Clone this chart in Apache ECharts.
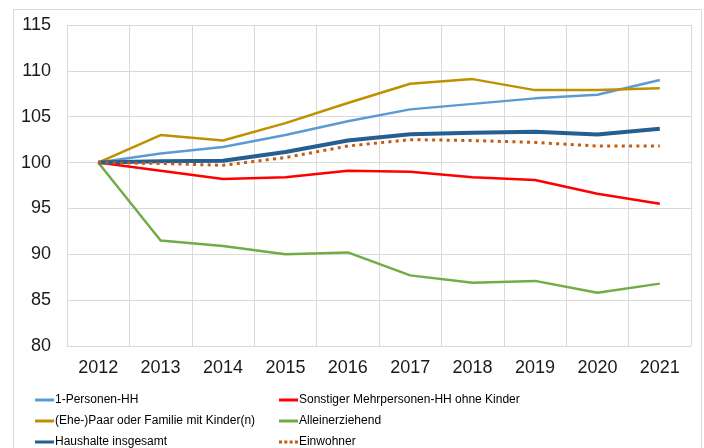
<!DOCTYPE html>
<html>
<head>
<meta charset="utf-8">
<script src="https://cdn.jsdelivr.net/npm/echarts@6/dist/echarts.min.js"></script>
<style>
  html, body { margin: 0; padding: 0; background: #ffffff; }
  #chart { width: 704px; height: 448px; }
</style>
</head>
<body>
<div id="chart"></div>
<script>
// Jahre (x-Achse)
const years = ['2012', '2013', '2014', '2015', '2016', '2017', '2018', '2019', '2020', '2021'];

// Indexwerte, 2012 = 100
const einPersonen = [100, 101.0, 101.7, 103.0, 104.5, 105.8, 106.4, 107.0, 107.4, 109.0];
const sonstigeMehrpersonen = [100, 99.1, 98.2, 98.4, 99.1, 99.0, 98.4, 98.1, 96.6, 95.5];
const paarFamilie = [100, 103.0, 102.4, 104.3, 106.5, 108.6, 109.1, 107.9, 107.9, 108.1];
const alleinerziehend = [100, 91.5, 90.9, 90.0, 90.2, 87.7, 86.9, 87.1, 85.8, 86.8];
const haushalteGesamt = [100, 100.15, 100.2, 101.15, 102.4, 103.1, 103.25, 103.35, 103.05, 103.7];
const einwohner = [100, 99.9, 99.7, 100.55, 101.8, 102.5, 102.4, 102.2, 101.8, 101.8];

// y-Achse
const yMin = 80;
const yMax = 115;
const yStep = 5;

const chart = echarts.init(document.getElementById('chart'));

const gridColor = '#d9d9d9';
const font = 'Liberation Sans, Arial, sans-serif';

const mkLine = (name, data, color, width, type) => ({
  name: name,
  type: 'line',
  data: data,
  symbol: 'none',
  smooth: false,
  lineStyle: { color: color, width: width, type: type || 'solid' },
  itemStyle: { color: color }
})

// Legenden-Symbole: Linie bzw. Punkte
const solidIcon = 'path://M0,0H19V3H0Z';
const dotIcon = 'path://M0,0H3V3H0Z M5.3,0H8.3V3H5.3Z M10.6,0H13.6V3H10.6Z M15.9,0H18.9V3H15.9Z';

// eine Legende pro Eintrag, 2 Spalten x 3 Zeilen
const mkLegend = (name, left, top, icon, h) => ({
  left: left,
  top: top,
  padding: 0,
  itemWidth: 19,
  itemHeight: h || 3,
  data: [{ name: name, icon: icon || solidIcon }],
  textStyle: { fontFamily: font, fontSize: 12, color: '#000000', padding: [0, 0, 0, -4] }
})

chart.setOption({
  backgroundColor: '#ffffff',
  animation: false,
  graphic: [{
    type: 'rect',
    shape: { x: 13.5, y: 9.5, width: 688, height: 460 },
    style: { fill: 'none', stroke: gridColor, lineWidth: 1 },
    silent: true
  }],
  legend: [
    mkLegend('1-Personen-HH', 35, 394),
    mkLegend('(Ehe-)Paar oder Familie mit Kinder(n)', 35, 415),
    mkLegend('Haushalte insgesamt', 35, 436, solidIcon, 4),
    mkLegend('Sonstiger Mehrpersonen-HH ohne Kinder', 279, 394),
    mkLegend('Alleinerziehend', 279, 415),
    mkLegend('Einwohner', 279, 436, dotIcon, 3)
  ],
  grid: { left: 67, right: 13, top: 25, bottom: 102 },
  xAxis: {
    type: 'category',
    data: years,
    boundaryGap: true,
    axisLine: { lineStyle: { color: gridColor, width: 1 } },
    axisTick: { show: false },
    axisLabel: { color: '#1a1a1a', fontSize: 18, fontFamily: font, margin: 13 },
    splitLine: { show: true, lineStyle: { color: gridColor, width: 1 } }
  },
  yAxis: {
    type: 'value',
    min: yMin,
    max: yMax,
    interval: yStep,
    axisLine: { show: false },
    axisTick: { show: false },
    axisLabel: { color: '#1a1a1a', fontSize: 18, fontFamily: font, margin: 16 },
    splitLine: { lineStyle: { color: gridColor, width: 1 } }
  },
  series: [
    mkLine('1-Personen-HH', einPersonen, '#5b9bd5', 2.5),
    mkLine('Sonstiger Mehrpersonen-HH ohne Kinder', sonstigeMehrpersonen, '#ff0000', 2.5),
    mkLine('(Ehe-)Paar oder Familie mit Kinder(n)', paarFamilie, '#bf9000', 2.5),
    mkLine('Alleinerziehend', alleinerziehend, '#70ad47', 2.5),
    mkLine('Haushalte insgesamt', haushalteGesamt, '#255e91', 4),
    mkLine('Einwohner', einwohner, '#c55a11', 3, [3, 4.3])
  ]
})
</script>
</body>
</html>
